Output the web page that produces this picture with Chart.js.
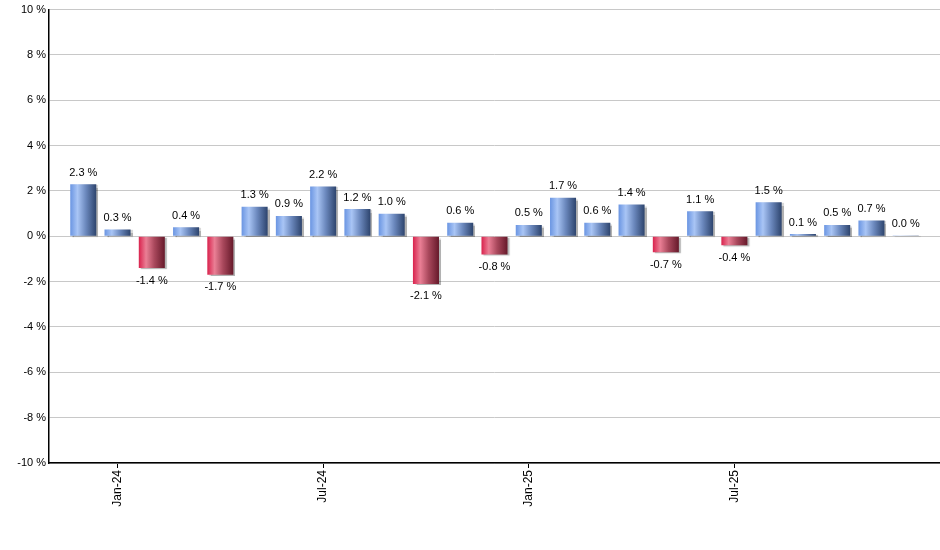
<!DOCTYPE html>
<html>
<head>
<meta charset="utf-8">
<script src="https://cdn.jsdelivr.net/npm/chart.js@4"></script>
<style>
  html, body { margin: 0; padding: 0; background: #fff; }
  #wrap { width: 940px; height: 550px; }
</style>
</head>
<body>
<div id="wrap"><canvas id="monthly"></canvas></div>
<script>
// monthly change, Dec-23 .. Dec-25
const months = ["Dec-23", "Jan-24", "Feb-24", "Mar-24", "Apr-24", "May-24", "Jun-24",
  "Jul-24", "Aug-24", "Sep-24", "Oct-24", "Nov-24", "Dec-24", "Jan-25", "Feb-25",
  "Mar-25", "Apr-25", "May-25", "Jun-25", "Jul-25", "Aug-25", "Sep-25", "Oct-25",
  "Nov-25", "Dec-25"];
const changes = [2.3, 0.3, -1.4, 0.4, -1.7, 1.3, 0.9, 2.2, 1.2, 1.0, -2.1, 0.6, -0.8,
  0.5, 1.7, 0.6, 1.4, -0.7, 1.1, -0.4, 1.5, 0.1, 0.5, 0.7, 0.04];
const tickMonths = ["Jan-24", "Jul-24", "Jan-25", "Jul-25"];

const FONT = "'Liberation Sans', Arial, sans-serif";
const BAR_PCT = 0.76;

// horizontal "cylinder" shading per bar
function barGradient(context) {
  const chart = context.chart;
  const xs = chart.scales.x;
  if (!xs || !chart.chartArea) return "#6f98e0";
  const v = context.raw ? context.raw.y : 0;
  const cx = xs.getPixelForValue(context.dataIndex);
  const step = xs.getPixelForValue(1) - xs.getPixelForValue(0);
  const half = step * BAR_PCT / 2;
  const g = chart.ctx.createLinearGradient(cx - half, 0, cx + half, 0);
  if (v >= 0) {
    g.addColorStop(0, "#6a95e2");
    g.addColorStop(0.28, "#a9c5f5");
    g.addColorStop(0.6, "#6b88bd");
    g.addColorStop(1, "#2d446d");
  } else {
    g.addColorStop(0, "#d9224d");
    g.addColorStop(0.28, "#ea7f95");
    g.addColorStop(0.6, "#a9485c");
    g.addColorStop(1, "#66192a");
  }
  return g;
}

const shadowPlugin = {
  id: "barShadow",
  beforeDatasetsDraw(chart) {
    const ctx = chart.ctx;
    ctx.save();
    ctx.shadowColor = "rgba(0,0,0,0.3)";
    ctx.shadowOffsetX = 2;
    ctx.shadowOffsetY = 1;
    ctx.shadowBlur = 1;
  },
  afterDatasetsDraw(chart) {
    chart.ctx.restore();
  }
};

const valueLabels = {
  id: "valueLabels",
  afterDatasetsDraw(chart) {
    const ctx = chart.ctx;
    const meta = chart.getDatasetMeta(0);
    ctx.save();
    ctx.font = "11px " + FONT;
    ctx.fillStyle = "#000";
    ctx.textAlign = "center";
    meta.data.forEach((bar, i) => {
      const v = changes[i];
      const txt = v.toFixed(1) + " %";
      if (v >= 0) {
        ctx.textBaseline = "bottom";
        ctx.fillText(txt, bar.x, bar.y - 6);
      } else {
        ctx.textBaseline = "top";
        ctx.fillText(txt, bar.x, bar.y + 7);
      }
    });
    ctx.restore();
  }
};

const ctx = document.getElementById("monthly").getContext("2d");

new Chart(ctx, {
  type: "bar",
  data: {
    datasets: [{
      data: changes.map((v, i) => ({ x: i, y: v })),
      backgroundColor: barGradient,
      borderWidth: 0,
      categoryPercentage: 1,
      barPercentage: BAR_PCT
    }]
  },
  options: {
    responsive: true,
    maintainAspectRatio: false,
    animation: false,
    layout: { padding: { top: 9, right: 0, left: 0, bottom: 0 } },
    plugins: {
      legend: { display: false },
      tooltip: { enabled: false }
    },
    scales: {
      x: {
        type: "linear",
        min: -1,
        max: 25,
        offset: false,
        afterBuildTicks: (scale) => {
          scale.ticks = months
            .map((m, i) => ({ value: i }))
            .filter(t => tickMonths.includes(months[t.value]));
        },
        afterFit: (scale) => { scale.height = 87; },
        grid: {
          offset: false,
          drawOnChartArea: false,
          tickLength: 5,
          color: "#000"
        },
        border: { color: "#000", width: 1.5 },
        ticks: {
          autoSkip: false,
          maxRotation: 90,
          minRotation: 90,
          padding: 2,
          color: "#000",
          font: { family: FONT, size: 12 },
          callback: (value) => months[value]
        }
      },
      y: {
        min: -10,
        max: 10,
        afterFit: (scale) => { scale.width = 49; },
        grid: {
          color: "#c8c8c8",
          drawTicks: false
        },
        border: { color: "#000", width: 1.5 },
        ticks: {
          stepSize: 2,
          padding: 3,
          color: "#000",
          font: { family: FONT, size: 11 },
          callback: (v) => v + " %"
        }
      }
    }
  },
  plugins: [shadowPlugin, valueLabels]
});
</script>
</body>
</html>
